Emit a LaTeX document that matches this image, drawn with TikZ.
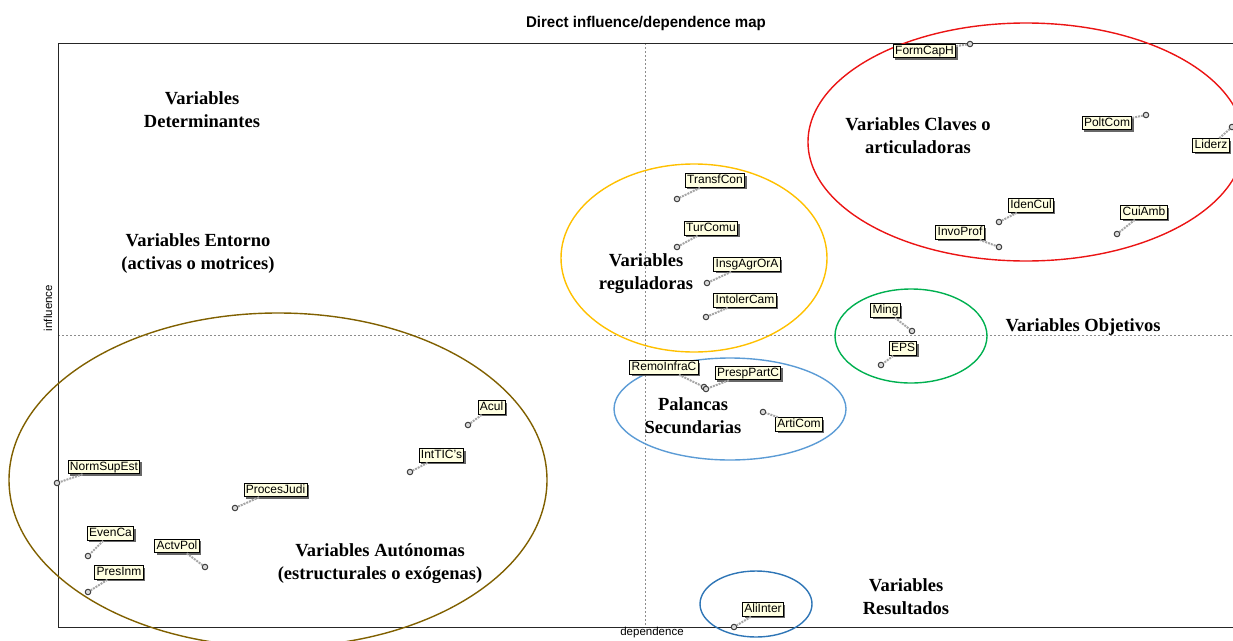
\documentclass[tikz,border=0pt]{standalone}
\usepackage{fontspec}
\setmainfont{Liberation Serif}
\setsansfont{Liberation Sans}
\usetikzlibrary{shadows}

\definecolor{labfill}{RGB}{255,255,225}
\definecolor{zred}{RGB}{235,20,20}
\definecolor{zgold}{RGB}{255,192,0}
\definecolor{zgreen}{RGB}{0,176,80}
\definecolor{zsky}{RGB}{91,155,213}
\definecolor{zblue}{RGB}{46,117,182}
\definecolor{zbrown}{RGB}{128,96,0}

\begin{document}
\begin{tikzpicture}[x=1pt,y=-1pt,
  lab/.style={draw=black, line width=0.9pt, fill=labfill,
    font=\sffamily\fontsize{12}{12}\selectfont,
    inner xsep=1.8pt, inner ysep=1.2pt, text height=8.8pt, text depth=2.5pt,
    drop shadow={shadow xshift=2pt, shadow yshift=-2pt, fill=black!70, opacity=0.85}},
  pt/.style={circle, draw=black!75, fill=black!15, line width=1pt,
    minimum size=5.5pt, inner sep=0pt},
  conn/.style={draw=black!35, densely dotted, line width=2pt},
  cat/.style={font=\bfseries\fontsize{18.5}{23}\selectfont, align=center},
  zone/.style={line width=1.4pt},
  axis/.style={draw=black!85, line width=1pt},
  midline/.style={draw=black!45, dashed, dash pattern=on 2pt off 2pt, line width=0.8pt},
  axlabel/.style={font=\sffamily\fontsize{11.5}{12}\selectfont},
]
\useasboundingbox (0,0) rectangle (1233,640);

% title
\node[font=\sffamily\bfseries\fontsize{15.5}{16}\selectfont, xscale=0.97] (title) at (646,23) {Direct influence/dependence map};

% quadrant separators
\draw[midline] (645,43) -- (645,627);
\draw[midline] (58,335) -- (1233,335);

% plot frame
\draw[axis] (1233,43) -- (58,43) -- (58,627) -- (1233,627);

% axis titles
\node[axlabel, rotate=90] (infl) at (48,308) {influence};
\node[axlabel] (dep) at (652,633) {dependence};

% zones
\draw[zone, zred]   (1026,142) ellipse [x radius=218, y radius=119];
\draw[zone, zgold]  (694,258)  ellipse [x radius=133, y radius=94];
\draw[zone, zgreen] (911,336)  ellipse [x radius=76,  y radius=47];
\draw[zone, zsky]   (730,409)  ellipse [x radius=116, y radius=51];
\draw[zone, zblue]  (756,604)  ellipse [x radius=56,  y radius=33];
\draw[zone, zbrown] (278,480)  ellipse [x radius=269, y radius=167];

% zone names
\node[cat] (cDet) at (202,110) {Variables\\Determinantes};
\node[cat] (cEnt) at (198,254) {Variables Entorno\\(activas o motrices)};
\node[cat] (cCla) at (918,136) {Variables Claves o\\articuladoras};
\node[cat] (cReg) at (646,273.5) {Variables\\reguladoras};
\node[cat] (cObj) at (1083,327) {Variables Objetivos};
\node[cat] (cPal) at (693,415.5) {Palancas\\Secundarias};
\node[cat] (cAut) at (380,563.5) {Variables Autónomas\\(estructurales o exógenas)};
\node[cat] (cRes) at (906,596.5) {Variables\\Resultados};

% variables: name / text / label centre / point
\foreach \n/\t/\lx/\ly/\px/\py in {
  FormCapH/FormCapH/924.5/51/970/44,
  PoltCom/PoltCom/1107/123/1146/115,
  Liderz/Liderz/1211/145.5/1232/127,
  IdenCul/IdenCul/1031/205.5/999/222,
  InvoProf/InvoProf/960/232.5/999/247,
  CuiAmb/CuiAmb/1144/212.5/1117/234,
  TransfCon/TransfCon/715/180.5/677/199,
  TurComu/TurComu/711/228.5/677/247,
  InsgAgrOrA/InsgAgrOrA/747/264.5/707/283,
  IntolerCam/IntolerCam/745/300.5/706/317,
  RemoInfraC/RemoInfraC/664/367.5/704/387,
  PrespPartC/PrespPartC/748/373/706/389,
  ArtiCom/ArtiCom/799/424.5/763/412,
  Ming/Ming/885.5/310.5/912/331,
  EPS/EPS/903/348.5/881/365,
  Acul/Acul/491.5/407.5/468/425,
  IntTICs/IntTIC's/441.5/455.5/410/472,
  NormSupEst/NormSupEst/104/467/57/483,
  ProcesJudi/ProcesJudi/275.5/490/235/508,
  EvenCa/EvenCa/110.5/533.5/88/556,
  ActvPol/ActvPol/177/546/205/567,
  PresInm/PresInm/119/572.5/88/592,
  AliInter/AliInter/763/609.5/734/627}
{
  \node[pt] (p\n) at (\px,\py) {};
  \node[lab] (l\n) at (\lx,\ly) {\t};
  \draw[conn] (l\n) -- (p\n);
}
\end{tikzpicture}
\end{document}
